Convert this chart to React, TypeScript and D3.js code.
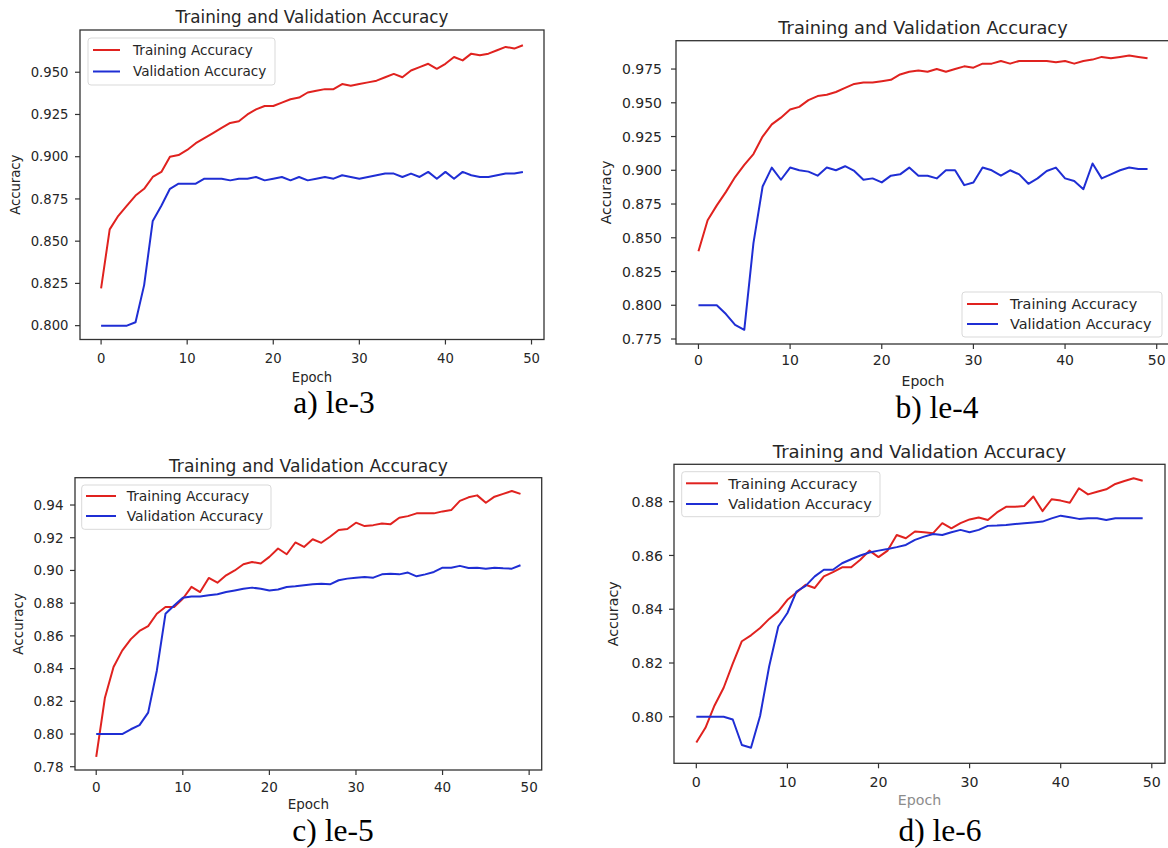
import React from "react";
import * as d3 from "d3";

// epochs 0..49
const epochs = d3.range(50);
const xTicks = [0, 10, 20, 30, 40, 50];

const trainA = [0.822,0.857,0.865,0.871,0.877,0.881,0.888,0.891,0.900,0.901,0.904,0.908,0.911,0.914,0.917,0.920,0.921,0.925,0.928,0.930,0.930,0.932,0.934,0.935,0.938,0.939,0.940,0.940,0.943,0.942,0.943,0.944,0.945,0.947,0.949,0.947,0.951,0.953,0.955,0.952,0.955,0.959,0.957,0.961,0.960,0.961,0.963,0.965,0.964,0.966];
const valA = [0.800,0.800,0.800,0.800,0.802,0.824,0.862,0.871,0.881,0.884,0.884,0.884,0.887,0.887,0.887,0.886,0.887,0.887,0.888,0.886,0.887,0.888,0.886,0.888,0.886,0.887,0.888,0.887,0.889,0.888,0.887,0.888,0.889,0.890,0.890,0.888,0.890,0.888,0.891,0.887,0.891,0.887,0.891,0.889,0.888,0.888,0.889,0.890,0.890,0.891];

const trainB = [0.840,0.863,0.874,0.884,0.895,0.904,0.912,0.925,0.934,0.939,0.945,0.947,0.952,0.955,0.956,0.958,0.961,0.964,0.965,0.965,0.966,0.967,0.971,0.973,0.974,0.973,0.975,0.973,0.975,0.977,0.976,0.979,0.979,0.981,0.979,0.981,0.981,0.981,0.981,0.980,0.981,0.979,0.981,0.982,0.984,0.983,0.984,0.985,0.984,0.983];
const valB = [0.800,0.800,0.800,0.7935,0.7855,0.7818,0.846,0.888,0.902,0.893,0.902,0.900,0.899,0.896,0.902,0.900,0.903,0.8995,0.893,0.894,0.891,0.896,0.897,0.902,0.896,0.896,0.894,0.900,0.900,0.889,0.891,0.902,0.900,0.896,0.900,0.897,0.890,0.894,0.8995,0.902,0.894,0.892,0.886,0.905,0.894,0.897,0.900,0.902,0.901,0.901];

const trainC = [0.786,0.822,0.841,0.851,0.858,0.863,0.866,0.8735,0.8776,0.8776,0.8827,0.890,0.8868,0.8954,0.8925,0.897,0.900,0.9038,0.9052,0.9042,0.9083,0.9134,0.9099,0.9171,0.9144,0.9191,0.9169,0.9206,0.9247,0.9253,0.9292,0.9271,0.9277,0.9287,0.9283,0.9322,0.9332,0.9349,0.9349,0.9349,0.9361,0.9369,0.9425,0.9447,0.9459,0.9414,0.9451,0.9468,0.9486,0.9468];
const valC = [0.800,0.800,0.800,0.800,0.8029,0.8054,0.8131,0.8387,0.8735,0.8786,0.8833,0.8841,0.8841,0.8848,0.8854,0.8868,0.8878,0.8888,0.8895,0.8888,0.8878,0.8884,0.8899,0.8903,0.8909,0.8915,0.8919,0.8915,0.894,0.895,0.8956,0.896,0.8956,0.8976,0.898,0.8976,0.8987,0.8964,0.8976,0.8991,0.9017,0.9017,0.9028,0.9015,0.9017,0.9011,0.9017,0.9013,0.9011,0.9032];

const trainD = [0.7904,0.7959,0.8042,0.8108,0.8198,0.8281,0.8303,0.833,0.8364,0.8392,0.8435,0.8462,0.8491,0.8479,0.8522,0.8538,0.8556,0.8556,0.8584,0.8618,0.8594,0.8618,0.8676,0.8664,0.8689,0.8686,0.8683,0.872,0.8701,0.872,0.8734,0.8741,0.8732,0.876,0.8781,0.8781,0.8784,0.8819,0.8765,0.8809,0.8804,0.8796,0.885,0.8827,0.8837,0.8846,0.8866,0.8877,0.8887,0.8878];
const valD = [0.800,0.800,0.800,0.800,0.799,0.7895,0.7885,0.8003,0.8188,0.8336,0.8386,0.8466,0.8487,0.8522,0.8547,0.8547,0.8571,0.8586,0.860,0.8611,0.8618,0.8624,0.8631,0.8639,0.8658,0.867,0.868,0.8676,0.8686,0.8695,0.8686,0.8695,0.871,0.8711,0.8713,0.8717,0.872,0.8723,0.8726,0.8738,0.8748,0.8742,0.8736,0.8738,0.8738,0.8732,0.8738,0.8738,0.8738,0.8738];

const yTicksA = [0.800, 0.825, 0.850, 0.875, 0.900, 0.925, 0.950];
const yTicksB = [0.775, 0.800, 0.825, 0.850, 0.875, 0.900, 0.925, 0.950, 0.975];
const yTicksC = [0.78, 0.80, 0.82, 0.84, 0.86, 0.88, 0.90, 0.92, 0.94];
const yTicksD = [0.80, 0.82, 0.84, 0.86, 0.88];

const captions = ["a) le-3", "b) le-4", "c) le-5", "d) le-6"];
const seriesNames = ["Training Accuracy", "Validation Accuracy"];

const RED = "#e0221f";
const BLUE = "#1f2ed4";
const INK = "#262626";
const FONT = "'DejaVu Sans', Verdana, sans-serif";

const panels = [
  {
    train: trainA, val: valA, yTicks: yTicksA, fmt: ".3f", caption: captions[0],
    left: 80, top: 30, right: 544, bottom: 339.5, yDomain: [0.7918, 0.975],
    fs: 13.2, titleY: 23, tickY: 363, xlabY: 382, ylabX: 20, tickGap: 11.5, xlabFill: INK,
    legend: { x0: 88, y0: 38, x1: 275, y1: 85, hx0: 93, hx1: 120, tx: 133, r1: 50, r2: 71.5 },
    capX: 334, capY: 413,
  },
  {
    train: trainB, val: valB, yTicks: yTicksB, fmt: ".3f", caption: captions[1],
    left: 676, top: 40.7, right: 1170, bottom: 344, yDomain: [0.7713, 0.996],
    fs: 14, titleY: 34, tickY: 365, xlabY: 386, ylabX: 611, tickGap: 14, xlabFill: INK,
    legend: { x0: 962, y0: 292, x1: 1162, y1: 337, hx0: 967, hx1: 998, tx: 1010, r1: 304, r2: 324 },
    capX: 937, capY: 418,
  },
  {
    train: trainC, val: valC, yTicks: yTicksC, fmt: ".2f", caption: captions[2],
    left: 75, top: 477.7, right: 541.7, bottom: 770, yDomain: [0.778, 0.9567],
    fs: 13.5, titleY: 471.5, tickY: 792, xlabY: 809, ylabX: 23, tickGap: 11.5, xlabFill: INK,
    legend: { x0: 81.7, y0: 485, x1: 271, y1: 529.3, hx0: 86, hx1: 116, tx: 126.7, r1: 496, r2: 516 },
    capX: 333, capY: 841,
  },
  {
    train: trainD, val: valD, yTicks: yTicksD, fmt: ".2f", caption: captions[3],
    left: 674, top: 464.3, right: 1165, bottom: 763.3, yDomain: [0.7827, 0.8939],
    fs: 14.2, titleY: 458, tickY: 787, xlabY: 805, ylabX: 618, tickGap: 11, xlabFill: "#8c8c8c",
    legend: { x0: 681.7, y0: 471.7, x1: 880, y1: 516.7, hx0: 686, hx1: 718, tx: 728.3, r1: 483.3, r2: 504 },
    capX: 940, capY: 841,
  },
];

function Panel({ p }: { p: any }) {
  const x = d3.scaleLinear().domain([-2.45, 51.45]).range([p.left, p.right]);
  const y = d3.scaleLinear().domain(p.yDomain).range([p.bottom, p.top]);
  const line = d3
    .line<number>()
    .x((_, i) => x(epochs[i]))
    .y((d) => y(d));
  const fmt = d3.format(p.fmt);
  const cx = (p.left + p.right) / 2;
  const cy = (p.top + p.bottom) / 2;
  const L = p.legend;
  const clipId = "clip" + Math.round(p.left) + "_" + Math.round(p.top);
  return (
    <g fontFamily={FONT} fill={INK}>
      <text x={cx} y={p.titleY} textAnchor="middle" fontSize={p.fs * 1.27}>
        Training and Validation Accuracy
      </text>
      <defs>
        <clipPath id={clipId}>
          <rect x={p.left} y={p.top} width={p.right - p.left} height={p.bottom - p.top} />
        </clipPath>
      </defs>
      <g clipPath={`url(#${clipId})`}>
        <path d={line(p.train) || ""} fill="none" stroke={RED} strokeWidth={2} strokeLinejoin="round" />
        <path d={line(p.val) || ""} fill="none" stroke={BLUE} strokeWidth={2} strokeLinejoin="round" />
      </g>
      <rect
        x={p.left}
        y={p.top}
        width={p.right - p.left}
        height={p.bottom - p.top}
        fill="none"
        stroke="#333"
        strokeWidth={1.3}
      />
      {xTicks.map((t) => (
        <g key={"x" + t}>
          <line x1={x(t)} x2={x(t)} y1={p.bottom} y2={p.bottom + 5} stroke="#333" strokeWidth={1.2} />
          <text x={x(t)} y={p.tickY} textAnchor="middle" fontSize={p.fs}>
            {t}
          </text>
        </g>
      ))}
      {p.yTicks.map((t: number) => (
        <g key={"y" + t}>
          <line x1={p.left - 5} x2={p.left} y1={y(t)} y2={y(t)} stroke="#333" strokeWidth={1.2} />
          <text x={p.left - p.tickGap} y={y(t)} dy="0.36em" textAnchor="end" fontSize={p.fs}>
            {fmt(t)}
          </text>
        </g>
      ))}
      <text x={cx} y={p.xlabY} textAnchor="middle" fontSize={p.fs} fill={p.xlabFill}>
        Epoch
      </text>
      <text
        transform={`translate(${p.ylabX},${cy}) rotate(-90)`}
        textAnchor="middle"
        fontSize={p.fs}
      >
        Accuracy
      </text>
      <rect
        x={L.x0}
        y={L.y0}
        width={L.x1 - L.x0}
        height={L.y1 - L.y0}
        rx={3}
        fill="white"
        fillOpacity={0.85}
        stroke="#d9d9d9"
        strokeWidth={1}
      />
      {[RED, BLUE].map((c, i) => {
        const ry = i === 0 ? L.r1 : L.r2;
        return (
          <g key={c}>
            <line x1={L.hx0} x2={L.hx1} y1={ry} y2={ry} stroke={c} strokeWidth={2} />
            <text x={L.tx} y={ry} dy="0.36em" fontSize={p.fs * 1.03}>
              {seriesNames[i]}
            </text>
          </g>
        );
      })}
      <text
        x={p.capX}
        y={p.capY}
        textAnchor="middle"
        fontFamily="'Liberation Serif', 'Times New Roman', serif"
        fontSize={31.5}
        fill="#000"
      >
        {p.caption}
      </text>
    </g>
  );
}

export default function App() {
  return (
    <div style={{ position: "absolute", left: 0, top: 0 }}>
      <svg width={1168} height={848} style={{ display: "block", background: "#fff" }}>
        {panels.map((p, i) => (
          <Panel key={i} p={p} />
        ))}
      </svg>
    </div>
  );
}
